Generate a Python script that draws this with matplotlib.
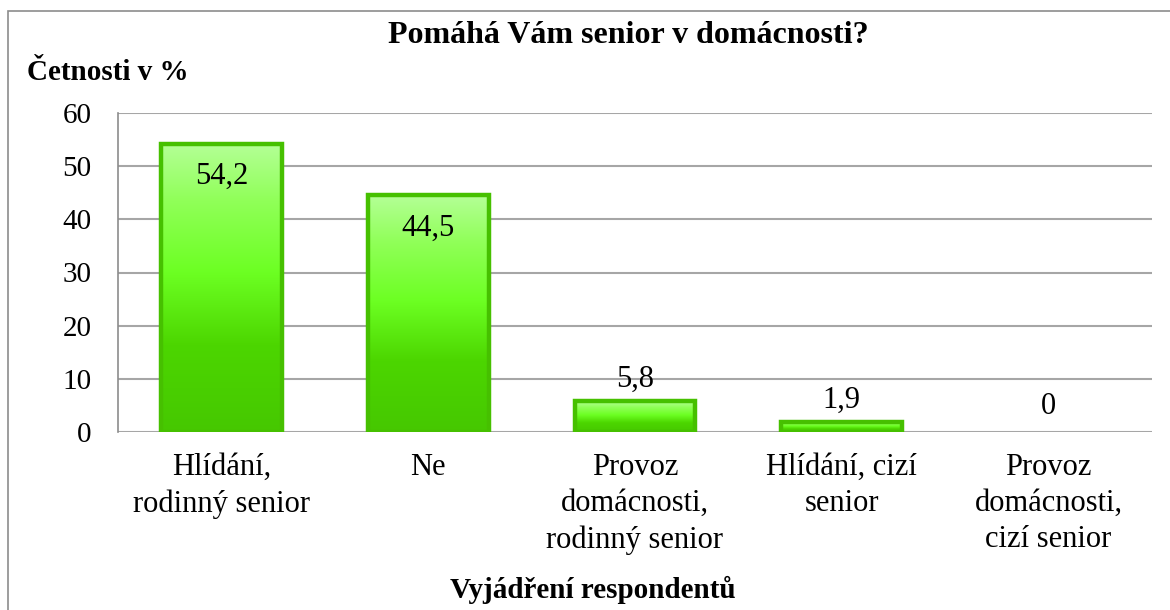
import matplotlib
matplotlib.use("Agg")
import matplotlib.pyplot as plt
import numpy as np
from matplotlib.patches import Rectangle
from matplotlib.colors import LinearSegmentedColormap

categories = ["Hlídání,\nrodinný senior", "Ne", "Provoz\ndomácnosti,\nrodinný senior",
              "Hlídání, cizí\nsenior", "Provoz\ndomácnosti,\ncizí senior"]
values = [54.2, 44.5, 5.8, 1.9, 0]
labels = ["54,2", "44,5", "5,8", "1,9", "0"]
yticks = [0, 10, 20, 30, 40, 50, 60]

plt.rcParams['font.family'] = ['Liberation Serif', 'DejaVu Serif']

W, H = 1170, 610
fig = plt.figure(figsize=(W / 100, H / 100), dpi=100)

# outer frame
frame = Rectangle((8 / W, -0.1), 1.2, 1 - 11 / H + 0.1, transform=fig.transFigure,
                  fill=False, edgecolor='#8c8c8c', linewidth=1.2)
fig.patches.append(frame)

FS = 22
left, right, top, bottom = 118, 1152, 113, 432
ax = fig.add_axes([left / W, 1 - bottom / H, (right - left) / W, (bottom - top) / H])
ax.set_xlim(-0.5, len(categories) - 0.5)
ax.set_ylim(0, 60)
ax.set_yticks(yticks)
ax.set_yticklabels([str(t) for t in yticks], fontsize=FS - 1)
ax.yaxis.grid(True, color='#a6a6a6', linewidth=1.5)
ax.set_axisbelow(True)
for s in ['top', 'right', 'bottom']:
    ax.spines[s].set_visible(False)
ax.spines['left'].set_color('#8c8c8c')
ax.spines['left'].set_linewidth(1.2)
ax.tick_params(axis='y', length=0, pad=19)
ax.tick_params(axis='x', length=0, pad=15)
ax.set_xticks(range(len(categories)))
ax.set_xticklabels(categories, fontsize=FS, linespacing=1.33)

cmap = LinearSegmentedColormap.from_list(
    "g", [(0.0, '#46c800'), (0.3, '#4cd600'), (0.55, '#6cff22'), (0.8, '#90ff58'), (1.0, '#b4ff96')])
grad = np.linspace(0, 1, 256).reshape(-1, 1)
bw = 0.585
bars = ax.bar(range(len(values)), values, width=bw, color='none',
              edgecolor='#46c000', linewidth=3.2, zorder=3)
for b, v in zip(bars, values):
    if v <= 0:
        b.set_visible(False)
        continue
    x0 = b.get_x()
    im = ax.imshow(grad, cmap=cmap, origin='lower', aspect='auto',
                   extent=(x0, x0 + bw, 0, v), zorder=2)
    im.set_clip_path(b)

for i, (v, lab) in enumerate(zip(values, labels)):
    if v > 20:
        ax.annotate(lab, (i, v), xytext=(0, -13), textcoords='offset points',
                    ha='center', va='top', fontsize=FS, zorder=5)
    else:
        ax.annotate(lab, (i, v), xytext=(0, 10 if v > 0 else 13), textcoords='offset points',
                    ha='center', va='baseline', fontsize=FS, zorder=5)

fig.text(628 / W, 1 - 43 / H, "Pomáhá Vám senior v domácnosti?",
         ha='center', va='baseline', fontsize=23, fontweight='bold')
fig.text(27 / W, 1 - 80 / H, "Četnosti v %", ha='left', va='baseline', fontsize=21, fontweight='bold')
fig.text(593 / W, 1 - 598 / H, "Vyjádření respondentů", ha='center', va='baseline',
         fontsize=21, fontweight='bold')

fig.savefig("out.png", dpi=100)
